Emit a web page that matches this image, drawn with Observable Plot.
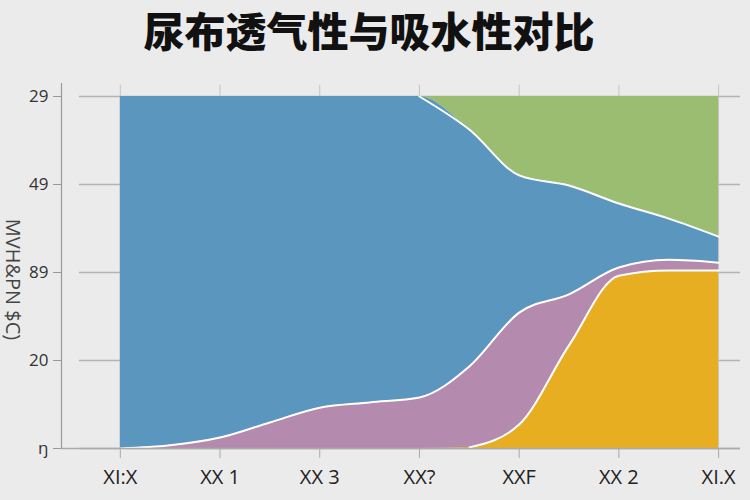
<!DOCTYPE html>
<html>
<head>
<meta charset="utf-8">
<script src="https://cdn.jsdelivr.net/npm/d3@7"></script>
<script src="https://cdn.jsdelivr.net/npm/@observablehq/plot@0.6"></script>
<style>
  html, body { margin: 0; padding: 0; background: #ebebeb; }
  #title { width: 750px; height: 60px; line-height: 58px; text-align: center; box-sizing: border-box; padding-right: 12px;
           font-family: "Noto Sans CJK SC", sans-serif; font-weight: 900; font-size: 41px; color: #111; }
  #chart svg { display: block; background: transparent; }
</style>
</head>
<body>
<div id="title">尿布透气性与吸水性对比</div>
<div id="chart"></div>
<script>
// Categories (x tick labels) and y tick labels
const xLabels = ["XI:X", "XX 1", "XX 3", "XX?", "XXF", "XX 2", "XI.X"];
const yTicks = [0, 25, 50, 75, 100];
const yLabels = ["ŋ", "20", "89", "49", "29"];
const yTitle = "MVH&PN $C)";

// sample positions (half steps between categories)
const xPos = [0, 0.5, 1, 1.5, 2, 2.5, 3, 3.5, 4, 4.5, 5, 5.5, 6];

// series, bottom to top
const seriesNames = ["S1", "S2", "S3", "S4"];
const seriesColors = ["#e8ae22", "#b48aaf", "#5b96bf", "#9bbd72"];
const yellow = [0, 0, 0, 0, 0, 0, 0, 0.3, 6.8, 29.3, 49.1, 50.6, 50.6];
const purple = [0, 0.9, 3.1, 7.4, 11.6, 13.1, 14.5, 23.0, 31.8, 14.5, 2.3, 3.0, 2.2];
const blue   = [100, 99.1, 96.9, 92.6, 88.4, 86.9, 85.5, 67.3, 39.0, 30.9, 18.2, 11.7, 7.4];
const green  = [0, 0, 0, 0, 0, 0, 0, 9.4, 22.4, 25.3, 30.4, 34.7, 39.8];

const seriesValues = [yellow, purple, blue, green];
const data = [];
seriesNames.forEach((s, k) => xPos.forEach((x, i) => data.push({series: s, x, value: seriesValues[k][i]})));

// boundary lines (cumulative tops)
const bounds = [];
xPos.forEach((x, i) => {
  const t1 = yellow[i], t2 = t1 + purple[i], t3 = t2 + blue[i];
  if (i >= 7) bounds.push({b: "y", x, y: t1});
  bounds.push({b: "p", x, y: t2});
  if (i >= 6) bounds.push({b: "bl", x, y: t3});
});

const xMin = -0.59, xMax = 6.27;
const chart = Plot.plot({
  width: 750,
  height: 440,
  marginTop: 36,
  marginBottom: 52,
  marginLeft: 61,
  marginRight: 5,
  style: {fontFamily: "'Open Sans', 'DejaVu Sans', sans-serif", color: "#333", background: "transparent"},
  x: {domain: [xMin, xMax], axis: null},
  y: {domain: [0, 100], axis: null},
  color: {domain: seriesNames, range: seriesColors},
  marks: [
    Plot.ruleY(yTicks, {x1: -0.41, x2: 6.22, stroke: "#b3b3b3", strokeWidth: 1.3}),
    Plot.ruleX(d3.range(xLabels.length), {y1: 0, y2: 103.2, stroke: "#c4c4c4", strokeWidth: 1}),
    Plot.areaY(data, {x: "x", y: "value", z: "series", fill: "series", order: seriesNames, curve: "monotone-x"}),
    Plot.line(bounds, {x: "x", y: "y", z: "b", stroke: "white", strokeWidth: 2, curve: "monotone-x"}),
    Plot.ruleX([xMin], {y1: 0, y2: 103.7, stroke: "#999", strokeWidth: 1.2}),
    Plot.ruleY([0], {x1: xMin, x2: 6.22, stroke: "#aaa", strokeWidth: 1.3}),
    Plot.axisY({ticks: yTicks, tickFormat: (d) => yLabels[yTicks.indexOf(d)], tickSize: 8, tickPadding: 5,
                fontSize: 17, stroke: "#999", fill: "#333", label: null}),
    Plot.axisX({ticks: d3.range(xLabels.length), tickFormat: (d) => xLabels[d], tickSize: 10, tickPadding: 11,
                fontSize: 20, stroke: "#aaa", fill: "#222", label: null}),
    Plot.text([yTitle], {x: -1.08, y: 48, text: (d) => d, rotate: 90, fontSize: 20, fill: "#444"})
  ]
});
document.getElementById("chart").appendChild(chart);
</script>
</body>
</html>
